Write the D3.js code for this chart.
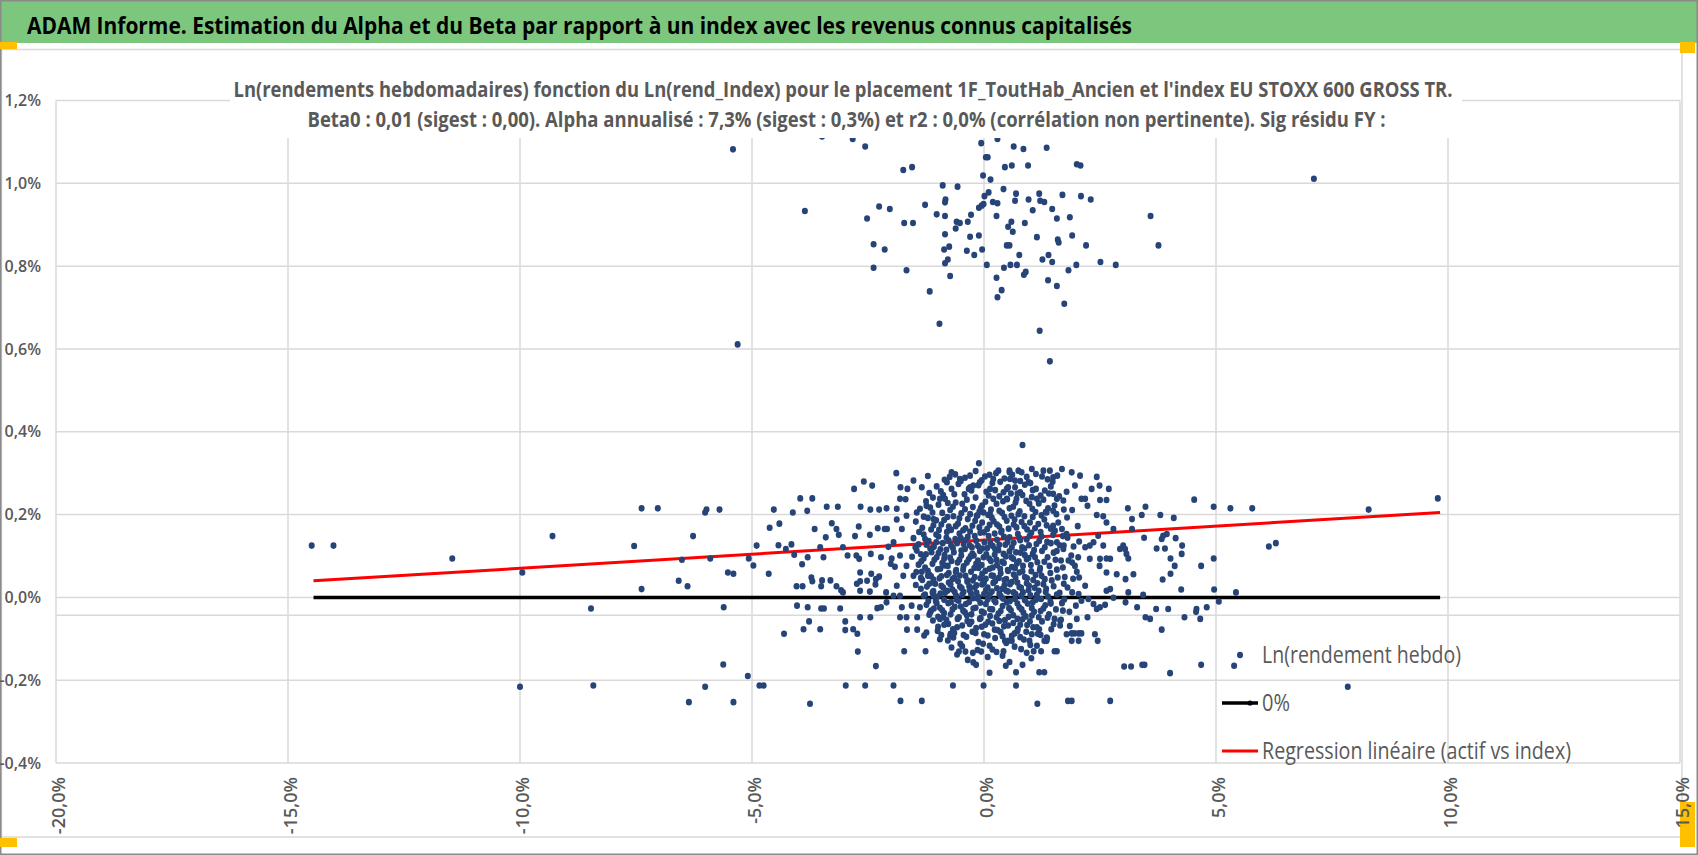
<!DOCTYPE html>
<html>
<head>
<meta charset="utf-8">
<script src="https://cdnjs.cloudflare.com/ajax/libs/d3/7.8.5/d3.min.js"></script>
<style>
    body { margin: 0; background: #fff; }
    text { font-family: "Open Sans", sans-serif; }
</style>
</head>
<body>
<div id="graph"></div>
<script>

    const header = "ADAM Informe. Estimation du Alpha et du Beta par rapport à un index avec les revenus connus capitalisés";
    const titleLines = [
        "Ln(rendements hebdomadaires) fonction du Ln(rend_Index) pour le placement 1F_ToutHab_Ancien et l'index EU STOXX 600 GROSS TR.",
        "Beta0 : 0,01 (sigest : 0,00). Alpha annualisé : 7,3% (sigest : 0,3%) et r2 : 0,0% (corrélation non pertinente). Sig résidu FY :"
    ];
    const legendLabels = ["Ln(rendement hebdo)", "0%", "Regression linéaire (actif vs index)"];

    const xTicks = [-20, -15, -10, -5, 0, 5, 10, 15];
    const yTicks = [-0.4, -0.2, 0, 0.2, 0.4, 0.6, 0.8, 1.0, 1.2];

    // [Ln(rend_Index) %, Ln(rendement hebdo) %]
    const weeksUpper = [[-2.83,1.107],[-2.56,1.089],[-0.06,1.097],[0.29,1.107],[0.64,1.089],[0.85,1.083],[1.35,1.086],[0.04,1.063],[0.08,1.063],[-1.74,1.032],[-1.55,1.039],[0.45,1.039],[0.60,1.043],[0.95,1.043],[2.00,1.046],[2.08,1.043],[-0.02,1.019],[0.14,1.009],[-0.89,0.995],[-0.57,0.992],[0.42,0.986],[0.10,0.978],[0.69,0.975],[1.19,0.975],[1.69,0.972],[2.09,0.969],[2.30,0.961],[0.01,0.969],[-0.83,0.961],[-0.84,0.954],[0.96,0.961],[1.21,0.958],[1.30,0.955],[0.19,0.955],[0.29,0.952],[0.67,0.958],[-1.27,0.948],[-2.26,0.944],[-2.03,0.938],[-0.01,0.950],[-0.05,0.946],[-0.11,0.941],[1.47,0.938],[1.05,0.935],[-1.02,0.925],[-0.84,0.921],[-0.28,0.924],[0.27,0.921],[1.57,0.915],[1.85,0.918],[3.59,0.921],[-2.52,0.915],[-1.72,0.904],[-1.53,0.904],[-0.59,0.907],[-0.52,0.904],[-0.35,0.907],[0.59,0.907],[0.88,0.904],[0.52,0.895],[-0.61,0.891],[0.62,0.883],[-0.84,0.877],[-0.30,0.871],[-0.11,0.874],[1.14,0.870],[1.90,0.874],[1.59,0.864],[1.61,0.857],[-2.38,0.853],[-2.14,0.840],[-0.86,0.840],[-0.75,0.847],[-0.37,0.837],[-0.04,0.840],[-0.21,0.827],[0.49,0.850],[0.55,0.850],[2.20,0.850],[3.76,0.850],[0.76,0.827],[1.39,0.827],[1.26,0.816],[1.47,0.810],[-0.78,0.816],[-0.84,0.807],[0.06,0.803],[0.57,0.803],[0.71,0.803],[0.43,0.796],[1.99,0.803],[2.51,0.810],[2.84,0.803],[-2.38,0.796],[-1.67,0.790],[1.82,0.790],[0.90,0.786],[0.86,0.779],[-0.73,0.776],[0.27,0.772],[1.38,0.766],[1.57,0.752],[-1.17,0.739],[0.38,0.742],[0.29,0.725],[1.73,0.709],[-0.96,0.661],[1.20,0.644],[1.42,0.570],[-5.41,1.082],[-3.86,0.933],[-5.31,0.611],[7.11,1.011],[-3.49,1.113]];

    const weeksLeft = [[-14.49,0.125],[-14.02,0.125],[-11.46,0.094],[-9.95,0.060],[-9.30,0.148],[-10.0,-0.216],[-8.47,-0.027],[-8.42,-0.213],[-7.38,0.215],[-7.03,0.215],[-7.54,0.124],[-7.38,0.020],[-6.27,0.148],[-6.01,0.205],[-5.98,0.212],[-5.70,0.212],[-6.51,0.091],[-6.58,0.040],[-6.39,0.027],[-5.90,0.094],[-5.61,-0.024],[-5.52,0.060],[-5.40,0.057],[-5.07,0.094],[-4.97,0.077],[-4.90,0.125],[-5.62,-0.162],[-5.09,-0.190],[-6.01,-0.216],[-6.36,-0.253],[-5.40,-0.253],[-4.84,-0.213],[-4.75,-0.213],
        [-4.53,0.212],[-4.12,0.205],[-3.81,0.209],[-3.96,0.239],[-3.70,0.239],[-3.39,0.219],[-3.15,0.219],[-2.80,0.262],[-2.59,0.280],[-2.41,0.270],[-2.66,0.219],[-2.45,0.212],[-2.26,0.212],[-2.10,0.215],[-1.89,0.300],[-4.62,0.168],[-4.41,0.178],[-3.65,0.165],[-3.28,0.179],[-3.18,0.165],[-3.13,0.151],[-3.41,0.145],[-4.43,0.126],[-4.27,0.117],[-4.15,0.128],[-4.09,0.103],[-3.53,0.121],[-3.04,0.121],[-3.80,0.097],[-3.46,0.097],[-3.92,0.080],[-4.64,0.057],[-2.94,0.101],[-2.75,0.101],[-2.69,0.093],[-2.70,0.171],[-2.78,0.148],[-2.46,0.151],[-2.29,0.167],[-2.44,0.105],[-2.22,0.097],[-2.14,0.165],[-2.09,0.165],[-1.88,0.188],[-1.77,0.165],[-1.88,0.214],[-1.81,0.238],[-1.69,0.237],[-1.80,0.266],[-1.65,0.262],[-1.52,0.282],[-1.34,0.266],[-1.21,0.293],[-3.72,0.048],[-3.70,0.039],[-4.04,0.027],[-3.91,0.027],[-3.49,0.041],[-3.51,0.027],[-3.31,0.041],[-3.18,0.027],[-3.08,0.017],[-3.04,0.012],[-2.67,0.060],[-2.67,0.039],[-2.74,0.033],[-2.52,0.040],[-2.43,0.057],[-2.33,0.044],[-2.26,0.050],[-2.46,0.014],[-2.67,0.016],[-2.34,0.031],[-4.03,-0.020],[-3.80,-0.024],[-3.51,-0.027],[-3.45,-0.027],[-3.10,-0.027],[-3.77,-0.058],[-3.89,-0.077],[-3.53,-0.077],[-4.31,-0.088],[-2.99,-0.058],[-2.99,-0.079],[-2.82,-0.077],[-2.73,-0.088],[-2.67,-0.048],[-2.45,-0.048],[-2.30,-0.026],[-2.22,-0.024],[-2.10,-0.012],[-1.95,0.004],[-2.11,0.012],[-2.72,-0.131],[-2.33,-0.166],[-1.72,-0.130],[-1.26,-0.130],[-1.66,-0.078],[-1.44,-0.078],[-1.29,-0.092],[-1.81,-0.048],[-1.67,-0.048],[-1.44,-0.048],[-2.01,0.081],[-1.92,0.074],[-1.99,0.094],[-2.06,0.122],[-1.95,0.133],[-1.81,0.101],[-1.67,0.076],[-1.74,0.052],[-1.52,0.052],[-1.88,0.028],[-1.81,0.004],[-1.77,-0.024],[-1.56,-0.020],[-1.38,-0.024],[-1.47,0.030],[-1.34,0.062],[-1.21,0.052],[-1.09,0.036],[-1.09,0.004],[-1.16,-0.036],[-0.95,-0.052],[-1.24,-0.085],[-0.95,-0.101],[-0.73,-0.093],[-0.66,-0.097],[-0.54,-0.131],[-0.40,-0.131],[-0.23,-0.157],[-0.06,-0.131],[-0.17,-0.163],[0.12,-0.182],[-1.67,0.197],[-1.45,0.205],[-1.24,0.221],[-1.09,0.189],[-0.95,0.238],[-0.80,0.278],[-0.70,0.302],[-0.52,0.286],[-0.30,0.294],[-0.11,0.324],[-0.23,0.270],[-0.09,0.278],[0.20,0.286],[0.31,0.306],[0.13,0.262],[0.20,0.238],[-0.01,0.205],[0.13,0.201],[-0.16,0.197],
        [-3.75,-0.257],[-2.98,-0.213],[-2.56,-0.213],[-1.95,-0.213],[-1.80,-0.250],[-1.34,-0.250],[-0.67,-0.213],[-0.01,-0.213],[0.69,-0.213],[1.15,-0.257],[1.81,-0.250],[1.89,-0.250],[2.72,-0.250]];

    const weeksRight = [[0.83,0.368],[1.68,0.310],[1.89,0.302],[2.07,0.294],[2.43,0.291],[2.49,0.270],[2.69,0.262],[2.32,0.262],[1.96,0.270],[2.10,0.238],[2.18,0.238],[2.50,0.235],[2.64,0.235],[2.23,0.221],[2.43,0.199],[2.57,0.196],[2.64,0.181],[2.79,0.165],[2.46,0.149],[2.36,0.133],[2.28,0.125],[2.18,0.121],[2.57,0.125],[2.93,0.117],[3.00,0.125],[3.04,0.117],[3.07,0.105],[3.11,0.094],[2.72,0.093],[2.64,0.094],[2.50,0.093],[2.28,0.093],[2.49,0.076],[2.64,0.060],[2.86,0.056],[3.05,0.044],[3.22,0.056],[2.72,0.020],[2.64,0.016],[2.79,-0.001],[2.61,-0.018],[2.50,-0.024],[2.43,-0.028],[3.05,-0.012],[3.11,0.012],[3.43,0.006],[3.30,-0.024],[3.48,-0.048],[3.58,-0.052],[3.71,-0.028],[3.97,-0.028],[3.83,-0.078],[3.10,0.215],[3.19,0.189],[3.40,0.199],[3.48,0.219],[3.80,0.199],[4.09,0.192],[3.19,0.165],[3.45,0.144],[3.83,0.141],[3.86,0.149],[3.94,0.153],[4.13,0.143],[3.72,0.118],[3.90,0.118],[4.27,0.125],[4.26,0.105],[4.02,0.094],[4.11,0.076],[4.02,0.057],[3.85,0.043],[4.25,0.019],[4.32,-0.048],[4.53,0.236],[4.95,0.219],[5.31,0.215],[4.95,0.094],[4.68,0.076],[4.96,0.019],[5.06,-0.010],[5.43,0.012],[4.58,-0.028],[4.57,-0.035],[4.66,-0.052],[4.80,-0.024],[5.39,-0.165],[4.68,-0.163],[4.01,-0.183],[3.46,-0.163],[3.41,-0.163],[3.17,-0.167],[3.02,-0.167],[2.45,-0.105],[2.39,-0.089],[2.10,-0.087],[2.04,-0.087],[1.95,-0.087],[1.89,-0.087],[2.04,-0.105],[1.89,-0.105],[1.78,-0.089],[1.57,-0.130],[1.52,-0.130],[1.23,-0.130],[1.07,-0.130],[1.19,-0.077],[1.03,-0.089],[0.98,-0.105],[0.78,-0.096],[0.60,-0.105],[0.52,-0.105],[0.45,-0.105],[0.42,-0.130],[0.47,-0.165],[0.69,-0.181],[0.83,-0.163],[1.19,-0.181],[1.30,-0.181],[1.35,-0.105],[1.30,-0.105],[1.35,-0.097],[1.64,-0.068],[1.64,-0.056],[2.00,-0.052],[2.23,-0.048],[2.36,-0.016],[2.25,-0.004],[2.18,0.028],[2.05,0.048],[1.96,0.076],[1.82,0.089],[2.03,0.097],[1.71,0.117],[1.93,0.123],[1.57,0.133],[1.78,0.153],[1.68,0.165],[1.49,0.173],[1.35,0.205],[1.49,0.209],[1.57,0.238],[1.49,0.250],[1.31,0.258],[1.14,0.238],[1.03,0.242],[0.96,0.278],[1.03,0.310],[1.28,0.306],[1.42,0.306],[1.49,0.290],[0.74,0.306],[0.81,0.302],[0.55,0.306],[0.56,0.286],[0.67,0.282],[0.67,0.266],[0.49,0.262],[0.42,0.254],[0.49,0.238],[0.70,0.238],[0.78,0.254],
        [5.78,0.215],[8.29,0.212],[9.78,0.239],[6.14,0.123],[6.29,0.131],[7.84,-0.216]];

    const weeksCore = [[-0.85,0.284],[-0.62,0.297],[-0.41,0.289],[-0.18,0.305],[0.02,0.292],[0.26,0.300],[0.44,0.287],[0.61,0.296],[0.92,0.291],[1.12,0.298],[1.37,0.285],[1.58,0.294],
        [-1.18,0.252],[-1.02,0.268],[-0.88,0.247],[-0.70,0.262],[-0.55,0.274],[-0.42,0.249],[-0.27,0.258],[-0.12,0.271],[0.05,0.255],[0.18,0.276],[0.33,0.244],[0.52,0.266],[0.72,0.251],[0.88,0.272],[1.05,0.259],[1.22,0.246],[1.44,0.268],[1.78,0.255],
        [-1.38,0.214],[-1.25,0.232],[-1.11,0.205],[-0.98,0.224],[-0.84,0.238],[-0.73,0.211],[-0.61,0.229],[-0.49,0.203],[-0.37,0.236],[-0.24,0.218],[-0.10,0.207],[0.03,0.231],[0.15,0.212],[0.27,0.226],[0.39,0.204],[0.50,0.237],[0.63,0.219],[0.77,0.208],[0.91,0.233],[1.04,0.214],[1.18,0.227],[1.33,0.206],[1.52,0.222],[1.71,0.234],[1.90,0.211],
        [-1.47,0.183],[-1.33,0.168],[-1.21,0.192],[-1.09,0.174],[-0.97,0.163],[-0.86,0.187],[-0.76,0.171],[-0.66,0.196],[-0.56,0.178],[-0.45,0.162],[-0.35,0.189],[-0.25,0.173],[-0.14,0.198],[-0.04,0.181],[0.07,0.165],[0.17,0.192],[0.28,0.176],[0.38,0.161],[0.49,0.185],[0.59,0.197],[0.70,0.169],[0.81,0.182],[0.93,0.164],[1.05,0.194],[1.17,0.177],[1.30,0.188],[1.44,0.166],[1.60,0.181],[1.79,0.193],[2.02,0.172],
        [-1.52,0.143],[-1.41,0.128],[-1.30,0.152],[-1.19,0.136],[-1.08,0.122],[-0.98,0.147],[-0.89,0.131],[-0.80,0.158],[-0.71,0.125],[-0.62,0.141],[-0.53,0.154],[-0.44,0.129],[-0.35,0.146],[-0.26,0.121],[-0.17,0.137],[-0.08,0.156],[0.01,0.133],[0.10,0.148],[0.19,0.124],[0.28,0.139],[0.37,0.157],[0.46,0.127],[0.55,0.145],[0.64,0.132],[0.73,0.153],[0.82,0.121],[0.92,0.140],[1.02,0.156],[1.13,0.129],[1.24,0.147],[1.36,0.134],[1.49,0.151],[1.63,0.126],[1.80,0.144],[2.05,0.135],
        [-1.55,0.098],[-1.45,0.113],[-1.35,0.087],[-1.25,0.104],[-1.16,0.118],[-1.07,0.091],[-0.98,0.107],[-0.90,0.083],[-0.81,0.115],[-0.73,0.096],[-0.65,0.109],[-0.57,0.084],[-0.49,0.101],[-0.41,0.117],[-0.33,0.092],[-0.25,0.106],[-0.17,0.081],[-0.09,0.112],[-0.01,0.097],[0.07,0.119],[0.15,0.088],[0.23,0.103],[0.31,0.114],[0.39,0.086],[0.47,0.099],[0.55,0.111],[0.63,0.093],[0.71,0.082],[0.79,0.108],[0.87,0.118],[0.96,0.095],[1.05,0.105],[1.15,0.085],[1.25,0.112],[1.37,0.097],[1.50,0.108],[1.66,0.089],[1.88,0.101],
        [-1.46,0.061],[-1.36,0.047],[-1.27,0.072],[-1.18,0.055],[-1.09,0.043],[-1.00,0.068],[-0.92,0.051],[-0.84,0.077],[-0.76,0.059],[-0.68,0.044],[-0.60,0.066],[-0.52,0.053],[-0.44,0.075],[-0.36,0.041],[-0.28,0.062],[-0.20,0.049],[-0.12,0.071],[-0.04,0.057],[0.04,0.045],[0.12,0.069],[0.20,0.052],[0.28,0.078],[0.36,0.058],[0.44,0.042],[0.52,0.064],[0.60,0.073],[0.68,0.048],[0.76,0.060],[0.84,0.076],[0.93,0.046],[1.02,0.063],[1.11,0.054],[1.21,0.071],[1.31,0.044],[1.43,0.059],[1.57,0.067],[1.74,0.049],[2.00,0.062],
        [-1.36,0.021],[-1.27,0.007],[-1.18,0.033],[-1.09,0.015],[-1.00,0.002],[-0.92,0.028],[-0.84,0.011],[-0.76,0.036],[-0.68,0.019],[-0.60,0.004],[-0.52,0.026],[-0.44,0.013],[-0.36,0.038],[-0.28,0.009],[-0.20,0.024],[-0.12,0.001],[-0.04,0.031],[0.04,0.017],[0.12,0.006],[0.20,0.035],[0.28,0.022],[0.36,0.003],[0.44,0.029],[0.52,0.014],[0.60,0.037],[0.68,0.008],[0.76,0.025],[0.84,0.012],[0.92,0.034],[1.00,0.005],[1.09,0.023],[1.18,0.016],[1.28,0.032],[1.38,0.002],[1.50,0.027],[1.63,0.011],[1.80,0.024],[2.04,0.008],
        [-1.24,-0.018],[-1.14,-0.032],[-1.04,-0.009],[-0.95,-0.025],[-0.86,-0.038],[-0.77,-0.014],[-0.68,-0.029],[-0.59,-0.005],[-0.50,-0.022],[-0.41,-0.036],[-0.32,-0.011],[-0.23,-0.027],[-0.14,-0.003],[-0.05,-0.034],[0.04,-0.016],[0.13,-0.028],[0.22,-0.007],[0.31,-0.039],[0.40,-0.021],[0.49,-0.012],[0.58,-0.031],[0.67,-0.004],[0.76,-0.024],[0.85,-0.037],[0.94,-0.015],[1.03,-0.026],[1.12,-0.006],[1.22,-0.033],[1.32,-0.019],[1.43,-0.010],[1.55,-0.029],[1.68,-0.014],[1.84,-0.035],[1.98,-0.020],[2.10,-0.008],
        [-1.10,-0.056],[-0.99,-0.071],[-0.88,-0.048],[-0.77,-0.064],[-0.67,-0.077],[-0.57,-0.052],[-0.47,-0.068],[-0.37,-0.043],[-0.27,-0.059],[-0.17,-0.074],[-0.07,-0.050],[0.03,-0.066],[0.13,-0.045],[0.23,-0.078],[0.33,-0.057],[0.43,-0.070],[0.53,-0.047],[0.63,-0.062],[0.73,-0.076],[0.83,-0.053],[0.93,-0.067],[1.03,-0.044],[1.14,-0.072],[1.25,-0.058],[1.37,-0.049],[1.50,-0.065],[1.66,-0.054],[1.85,-0.069],
        [-0.92,-0.091],[-0.78,-0.104],[-0.64,-0.086],[-0.51,-0.112],[-0.38,-0.095],[-0.25,-0.083],[-0.12,-0.108],[0.00,-0.089],[0.12,-0.117],[0.24,-0.098],[0.36,-0.084],[0.48,-0.110],[0.60,-0.093],[0.72,-0.081],[0.86,-0.102],[1.00,-0.115],[1.16,-0.088],[1.36,-0.099],
        [-0.58,-0.138],[-0.35,-0.151],[-0.14,-0.127],[0.08,-0.144],[0.27,-0.132],[0.55,-0.156],[0.80,-0.125],[1.02,-0.147]];

    const weeksCoreDense = [[-0.74,0.291],[-0.50,0.281],[-0.30,0.266],[-0.05,0.283],[0.12,0.296],[0.35,0.279],[0.55,0.302],[0.78,0.281],[1.00,0.276],[1.25,0.292],[1.48,0.279],
        [-1.10,0.241],[-0.93,0.256],[-0.78,0.228],[-0.64,0.249],[-0.47,0.226],[-0.33,0.262],[-0.18,0.241],[-0.04,0.222],[0.10,0.246],[0.24,0.259],[0.41,0.232],[0.58,0.251],[0.68,0.229],[0.83,0.247],[0.98,0.226],[1.12,0.262],[1.28,0.236],[1.40,0.251],[1.62,0.244],
        [-1.30,0.195],[-1.16,0.217],[-1.03,0.186],[-0.90,0.204],[-0.79,0.194],[-0.67,0.219],[-0.53,0.191],[-0.41,0.213],[-0.30,0.201],[-0.19,0.185],[-0.07,0.216],[0.09,0.199],[0.21,0.184],[0.33,0.209],[0.44,0.194],[0.55,0.215],[0.66,0.188],[0.74,0.201],[0.87,0.196],[0.99,0.181],[1.11,0.206],[1.24,0.198],[1.38,0.215],[1.56,0.201],[1.72,0.212],
        [-1.40,0.158],[-1.27,0.141],[-1.14,0.164],[-1.03,0.152],[-0.92,0.176],[-0.81,0.144],[-0.71,0.163],[-0.61,0.172],[-0.50,0.143],[-0.40,0.167],[-0.30,0.159],[-0.20,0.148],[-0.10,0.169],[0.00,0.157],[0.12,0.175],[0.23,0.154],[0.33,0.171],[0.43,0.146],[0.53,0.166],[0.64,0.176],[0.76,0.144],[0.87,0.172],[0.98,0.148],[1.10,0.167],[1.22,0.158],[1.35,0.174],[1.53,0.161],[1.70,0.148],
        [-1.48,0.121],[-1.36,0.104],[-1.24,0.127],[-1.13,0.109],[-1.03,0.133],[-0.94,0.116],[-0.85,0.102],[-0.76,0.137],[-0.67,0.119],[-0.58,0.131],[-0.49,0.113],[-0.40,0.138],[-0.31,0.126],[-0.22,0.101],[-0.13,0.124],[-0.04,0.118],[0.05,0.104],[0.14,0.131],[0.24,0.116],[0.33,0.127],[0.42,0.105],[0.51,0.134],[0.60,0.121],[0.69,0.109],[0.78,0.138],[0.88,0.102],[0.97,0.126],[1.08,0.114],[1.19,0.136],[1.31,0.121],[1.44,0.131],[1.57,0.112],[1.72,0.125],
        [-1.41,0.079],[-1.30,0.094],[-1.21,0.064],[-1.11,0.081],[-1.02,0.097],[-0.94,0.069],[-0.86,0.093],[-0.78,0.076],[-0.70,0.088],[-0.61,0.062],[-0.53,0.091],[-0.45,0.067],[-0.37,0.084],[-0.29,0.099],[-0.21,0.071],[-0.13,0.089],[-0.05,0.078],[0.03,0.064],[0.11,0.094],[0.19,0.072],[0.27,0.091],[0.35,0.069],[0.43,0.083],[0.51,0.066],[0.59,0.097],[0.67,0.071],[0.75,0.087],[0.83,0.063],[0.92,0.092],[1.01,0.078],[1.10,0.097],[1.20,0.065],[1.30,0.086],[1.41,0.076],[1.54,0.091],[1.70,0.072],[1.90,0.084],
        [-1.33,0.042],[-1.23,0.026],[-1.14,0.051],[-1.05,0.033],[-0.96,0.046],[-0.88,0.024],[-0.80,0.054],[-0.72,0.031],[-0.64,0.048],[-0.56,0.039],[-0.48,0.022],[-0.40,0.052],[-0.32,0.027],[-0.24,0.041],[-0.16,0.029],[-0.08,0.046],[0.00,0.036],[0.08,0.024],[0.16,0.053],[0.24,0.039],[0.32,0.047],[0.40,0.021],[0.48,0.044],[0.56,0.032],[0.64,0.055],[0.72,0.036],[0.80,0.023],[0.88,0.049],[0.97,0.028],[1.06,0.042],[1.15,0.034],[1.24,0.052],[1.34,0.021],[1.46,0.041],[1.59,0.048],[1.72,0.033],[1.92,0.045],
        [-1.30,0.004],[-1.20,-0.009],[-1.11,0.012],[-1.02,-0.014],[-0.94,0.009],[-0.86,-0.006],[-0.79,0.016],[-0.71,-0.011],[-0.63,0.013],[-0.55,-0.008],[-0.47,0.006],[-0.39,-0.016],[-0.31,0.017],[-0.24,-0.002],[-0.16,0.011],[-0.08,-0.013],[0.00,0.008],[0.08,-0.005],[0.17,0.014],[0.25,-0.012],[0.33,0.009],[0.41,-0.003],[0.48,0.016],[0.56,-0.009],[0.64,0.012],[0.72,-0.015],[0.80,0.004],[0.88,-0.007],[0.96,0.017],[1.05,-0.012],[1.14,0.006],[1.23,-0.004],[1.33,0.013],[1.44,-0.015],[1.57,0.007],[1.73,-0.005],[1.90,0.012],
        [-1.18,-0.042],[-1.08,-0.027],[-0.99,-0.047],[-0.90,-0.031],[-0.81,-0.054],[-0.72,-0.041],[-0.63,-0.023],[-0.54,-0.048],[-0.45,-0.032],[-0.36,-0.057],[-0.27,-0.041],[-0.18,-0.025],[-0.09,-0.052],[0.00,-0.037],[0.09,-0.059],[0.18,-0.029],[0.27,-0.048],[0.36,-0.033],[0.45,-0.055],[0.54,-0.026],[0.63,-0.043],[0.72,-0.052],[0.81,-0.029],[0.90,-0.046],[0.99,-0.058],[1.08,-0.035],[1.18,-0.048],[1.28,-0.027],[1.40,-0.041],[1.52,-0.052],[1.70,-0.032],
        [-1.00,-0.081],[-0.86,-0.066],[-0.72,-0.088],[-0.58,-0.072],[-0.44,-0.091],[-0.31,-0.064],[-0.18,-0.086],[-0.05,-0.071],[0.08,-0.092],[0.18,-0.063],[0.29,-0.079],[0.40,-0.094],[0.52,-0.068],[0.66,-0.087],[0.78,-0.066],[0.91,-0.083],[1.06,-0.072],[1.22,-0.091],[1.45,-0.077],
        [-0.70,-0.121],[-0.47,-0.118],[-0.24,-0.134],[-0.02,-0.112],[0.18,-0.126],[0.40,-0.141],[0.66,-0.119],[0.92,-0.134],[1.14,-0.117]];

    // "0%" series and regression line, both from min to max of the index returns
    const zeroX = [-14.45, 9.83];
    const zeroY = [0, 0];
    const regX = [-14.45, 9.83];
    const regY = [0.040, 0.205];
    // value where the horizontal axis crosses
    const axisCross = -0.043;

    const w = 1698;
    const h = 855;

    const svg = d3.select('#graph')
        .append('svg')
        .attr('width', w)
        .attr('height', h);

    const xScale = d3.scaleLinear()
        .domain([-20, 15])
        .range([56, 1680]);

    const yScale = d3.scaleLinear()
        .domain([-0.4, 1.2])
        .range([763, 100.5]);

    const pct = (d) => d3.format(".1f")(d).replace(".", ",").replace("\u2212", "-") + "%";

    // frame, header band and selection handles
    svg.append("rect").attr("width", w).attr("height", h).attr("fill", "#fff");
    svg.append("rect")
        .attr("x", 0).attr("y", 0)
        .attr("width", w).attr("height", 43)
        .attr("fill", "#7dc67d");
    svg.append("text")
        .attr("x", 27).attr("y", 33.5)
        .attr("textLength", 1105)
        .attr("lengthAdjust", "spacingAndGlyphs")
        .style("font-size", "24px")
        .style("font-weight", "bold")
        .attr("fill", "#000")
        .text(header);
    svg.append("rect")
        .attr("x", 1.5).attr("y", 49.5)
        .attr("width", 1680.5).attr("height", 787.5)
        .attr("fill", "none")
        .attr("stroke", "#d9d9d9")
        .attr("stroke-width", 1.5);
    svg.append("rect")
        .attr("x", 0.75).attr("y", 0.75)
        .attr("width", w - 1.5).attr("height", h - 1.5)
        .attr("fill", "none")
        .attr("stroke", "#8a8a8a")
        .attr("stroke-width", 1.5);
    [[0, 42, 17, 7], [1680, 42, 15, 11], [0, 838, 17, 9], [1680, 802, 15, 45]].forEach(function (r) {
        svg.append("rect")
            .attr("x", r[0]).attr("y", r[1])
            .attr("width", r[2]).attr("height", r[3])
            .attr("fill", "#ffc000");
    });

    // gridlines
    svg.append("g")
        .selectAll("line")
        .data(yTicks)
        .enter()
        .append("line")
        .attr("x1", xScale(-20)).attr("x2", xScale(15))
        .attr("y1", (d) => yScale(d)).attr("y2", (d) => yScale(d))
        .attr("stroke", "#d9d9d9")
        .attr("stroke-width", 1.5);

    svg.append("g")
        .selectAll("line")
        .data(xTicks)
        .enter()
        .append("line")
        .attr("x1", (d) => xScale(d)).attr("x2", (d) => xScale(d))
        .attr("y1", yScale(1.2)).attr("y2", yScale(-0.4))
        .attr("stroke", "#d9d9d9")
        .attr("stroke-width", 1.5);

    svg.append("line")
        .attr("x1", xScale(-20)).attr("x2", xScale(15))
        .attr("y1", yScale(axisCross)).attr("y2", yScale(axisCross))
        .attr("stroke", "#d9d9d9")
        .attr("stroke-width", 1.5);

    // axes labels
    const xAxis = d3.axisBottom(xScale)
        .tickValues(xTicks)
        .tickSize(0)
        .tickFormat(pct);

    const yAxis = d3.axisLeft(yScale)
        .tickValues(yTicks)
        .tickSize(0)
        .tickPadding(15)
        .tickFormat(pct);

    const gx = svg.append("g")
        .attr("transform", "translate(0," + yScale(-0.4) + ")")
        .call(xAxis);
    gx.select(".domain").remove();
    gx.selectAll("text")
        .attr("transform", "rotate(-90)")
        .attr("x", -14)
        .attr("y", 8)
        .attr("dy", 0)
        .attr("text-anchor", "end")
        .attr("fill", "#595959")
        .style("font-size", "18px")
        .style("font-weight", 600)
        .style("font-family", "'Open Sans', sans-serif");

    const gy = svg.append("g")
        .attr("transform", "translate(" + xScale(-20) + ",0)")
        .call(yAxis);
    gy.select(".domain").remove();
    gy.selectAll("text")
        .attr("fill", "#595959")
        .style("font-size", "16px")
        .style("font-weight", 600)
        .style("font-family", "'Open Sans', sans-serif");

    // lines
    const line = d3.line()
        .x((d) => xScale(d[0]))
        .y((d) => yScale(d[1]));

    svg.append("path")
        .datum(d3.zip(zeroX, zeroY))
        .attr("d", line)
        .attr("fill", "none")
        .attr("stroke", "#000")
        .attr("stroke-width", 3.5);

    svg.append("path")
        .datum(d3.zip(regX, regY))
        .attr("d", line)
        .attr("fill", "none")
        .attr("stroke", "#ff0000")
        .attr("stroke-width", 3);

    // scatter
    const weeks = weeksUpper.concat(weeksLeft, weeksRight, weeksCore, weeksCoreDense);

    svg.append("g")
        .selectAll("ellipse")
        .data(weeks)
        .enter()
        .append("ellipse")
        .attr("cx", (d) => xScale(d[0]))
        .attr("cy", (d) => yScale(d[1]))
        .attr("rx", 3.0)
        .attr("ry", 3.3)
        .attr("fill", "#264478");

    // chart title (white box over the plot)
    svg.append("rect")
        .attr("x", 230).attr("y", 62)
        .attr("width", 1232).attr("height", 76)
        .attr("fill", "#fff");

    svg.selectAll(".title")
        .data(titleLines)
        .enter()
        .append("text")
        .attr("class", "title")
        .attr("x", (d, i) => i === 0 ? 233.5 : 307.5)
        .attr("y", (d, i) => 96.5 + i * 30)
        .attr("textLength", (d, i) => i === 0 ? 1219 : 1078)
        .attr("lengthAdjust", "spacingAndGlyphs")
        .attr("fill", "#595959")
        .style("font-size", "22px")
        .style("font-weight", "bold")
        .text((d) => d);

    // legend
    const legend = svg.append("g").attr("class", "legend");
    const rowY = [655, 703, 751];
    const rowLen = [199, 28, 309];

    legend.append("ellipse")
        .attr("cx", 1240).attr("cy", rowY[0])
        .attr("rx", 3.0).attr("ry", 3.3)
        .attr("fill", "#264478");
    legend.append("line")
        .attr("x1", 1222).attr("x2", 1258)
        .attr("y1", rowY[1]).attr("y2", rowY[1])
        .attr("stroke", "#000")
        .attr("stroke-width", 3.5);
    legend.append("circle")
        .attr("cx", 1250).attr("cy", rowY[1])
        .attr("r", 2.6)
        .attr("fill", "#000");
    legend.append("line")
        .attr("x1", 1222).attr("x2", 1258)
        .attr("y1", rowY[2]).attr("y2", rowY[2])
        .attr("stroke", "#ff0000")
        .attr("stroke-width", 3);

    legend.selectAll("text")
        .data(legendLabels)
        .enter()
        .append("text")
        .attr("x", 1262)
        .attr("y", (d, i) => rowY[i] + 8)
        .attr("textLength", (d, i) => rowLen[i])
        .attr("lengthAdjust", "spacingAndGlyphs")
        .attr("fill", "#595959")
        .style("font-size", "23px")
        .text((d) => d);

</script>
</body>
</html>
